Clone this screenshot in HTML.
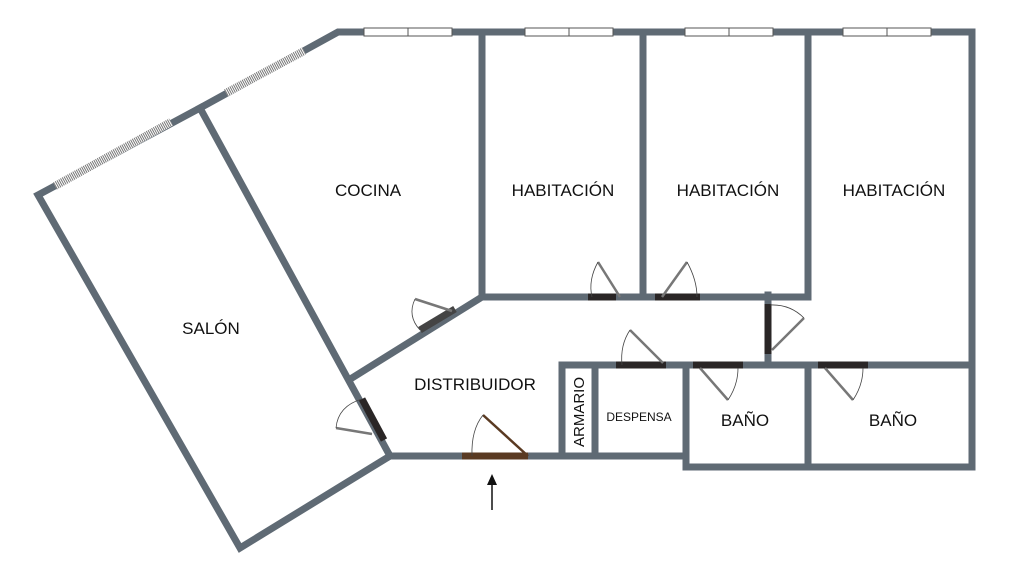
<!DOCTYPE html>
<html><head><meta charset="utf-8"><style>
html,body{margin:0;padding:0;background:#fff;}
svg{display:block}
text{font-family:"Liberation Sans",sans-serif;fill:#111}
</style></head><body>
<svg width="1024" height="581" viewBox="0 0 1024 581" xmlns="http://www.w3.org/2000/svg">
<g stroke="#5f6a74" stroke-width="7" fill="none" stroke-linecap="square" stroke-linejoin="miter">
<polyline points="390,456 240,548 38,195 200,108 338,32 972,32 972,467 686,467 686,456 562,456"/>
<line x1="200" y1="108" x2="390" y2="456"/>
<line x1="352" y1="378" x2="482" y2="297"/>
<line x1="390" y1="456" x2="562" y2="456"/>
<line x1="482" y1="32" x2="482" y2="297"/>
<line x1="643" y1="32" x2="643" y2="297"/>
<line x1="808" y1="32" x2="808" y2="295"/>
<line x1="482" y1="297" x2="808" y2="297"/>
<line x1="768" y1="295" x2="768" y2="365"/>
<line x1="562" y1="365" x2="972" y2="365"/>
<line x1="562" y1="365" x2="562" y2="456"/>
<line x1="595" y1="365" x2="595" y2="456"/>
<line x1="686" y1="365" x2="686" y2="467"/>
<line x1="808" y1="365" x2="808" y2="467"/>
</g>
<!-- windows -->
<g stroke="#555" stroke-width="1" fill="#fff">
<rect x="364" y="28" width="88" height="8"/><line x1="408" y1="28" x2="408" y2="36"/>
<rect x="525" y="28" width="88" height="8"/><line x1="569" y1="28" x2="569" y2="36"/>
<rect x="685" y="28" width="88" height="8"/><line x1="729" y1="28" x2="729" y2="36"/>
<rect x="843" y="28" width="88" height="8"/><line x1="887" y1="28" x2="887" y2="36"/>
<line x1="226" y1="93" x2="304" y2="51" stroke-width="8" stroke="#fff"/>
<line x1="226" y1="93" x2="304" y2="51" stroke-width="8" stroke="#777" stroke-dasharray="1 1"/>
<line x1="55" y1="186" x2="171" y2="122" stroke-width="8" stroke="#fff"/>
<line x1="55" y1="186" x2="171" y2="122" stroke-width="8" stroke="#777" stroke-dasharray="1 1"/>
</g>
<!-- doors -->
<g stroke="#2a2626" stroke-width="7">
<line x1="362" y1="399" x2="384" y2="440"/>
<line x1="420" y1="330" x2="455" y2="309" stroke="#444"/>
<line x1="588" y1="297" x2="616" y2="297"/>
<line x1="655" y1="297" x2="700" y2="297"/>
<line x1="768" y1="304" x2="768" y2="354"/>
<line x1="616" y1="365" x2="666" y2="365"/>
<line x1="693" y1="365" x2="743" y2="365"/>
<line x1="818" y1="365" x2="868" y2="365"/>
<line x1="462" y1="456" x2="528" y2="456" stroke="#5a3a22"/>
</g>
<g stroke="#777" stroke-width="2.5" fill="none">
<line x1="372" y1="434" x2="336" y2="428"/>
<line x1="452" y1="311" x2="415" y2="299"/>
<line x1="620" y1="297" x2="598" y2="262"/>
<line x1="662" y1="297" x2="687" y2="262"/>
<line x1="772" y1="350" x2="804" y2="318"/>
<line x1="663" y1="363" x2="630" y2="330"/>
<line x1="700" y1="368" x2="728" y2="400"/>
<line x1="825" y1="368" x2="853" y2="400"/>
<line x1="528" y1="456" x2="483" y2="415" stroke="#5a3a22"/>
</g>
<g stroke="#444" stroke-width="0.8" fill="none">
<path d="M336,428 Q338,406 362,399"/>
<path d="M415,299 Q407,316 420,330"/>
<path d="M598,262 Q588,280 592,297"/>
<path d="M687,262 Q697,280 697,297"/>
<path d="M804,318 Q790,304 770,305"/>
<path d="M630,330 Q620,345 622,365"/>
<path d="M728,400 Q738,385 738,368"/>
<path d="M853,400 Q863,385 863,368"/>
<path d="M483,415 Q471,430 472,456"/>
</g>
<line x1="492" y1="510" x2="492" y2="482" stroke="#111" stroke-width="1.5"/>
<polygon points="492,474 487,485 497,485" fill="#111"/>
<g font-size="17" text-anchor="middle">
<text x="368" y="196">COCINA</text>
<text x="563" y="196">HABITACIÓN</text>
<text x="728" y="196">HABITACIÓN</text>
<text x="894" y="196">HABITACIÓN</text>
<text x="211" y="334">SALÓN</text>
<text x="475" y="390">DISTRIBUIDOR</text>
<text x="745" y="426">BAÑO</text>
<text x="893" y="426">BAÑO</text>
<text x="639" y="421" font-size="12">DESPENSA</text>
<text transform="translate(584,412) rotate(-90)" font-size="15">ARMARIO</text>
</g>
</svg>
</body></html>
